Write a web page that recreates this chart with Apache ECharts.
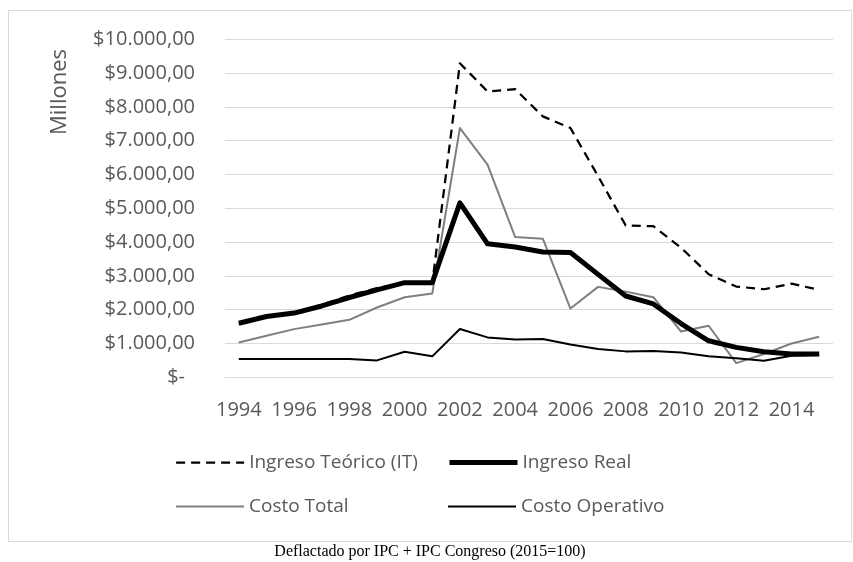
<!DOCTYPE html>
<html>
<head>
<meta charset="utf-8">
<script src="https://cdn.jsdelivr.net/npm/echarts@6/dist/echarts.min.js"></script>
<style>
  html, body { margin: 0; padding: 0; background: #fff; }
  #chart { width: 853px; height: 562px; }
</style>
</head>
<body>
<div id="chart"></div>
<script>
// años y series (millones, deflactado)
const years = ['1994','1995','1996','1997','1998','1999','2000','2001','2002','2003','2004',
  '2005','2006','2007','2008','2009','2010','2011','2012','2013','2014','2015'];

const ingresoTeorico = [1580, 1830, 1880, 2150, 2420, 2640, 2780, 2780, 9290, 8455, 8525,
  7720, 7375, 5950, 4490, 4470, 3835, 3050, 2685, 2605, 2770, 2585];
const ingresoReal = [1600, 1800, 1900, 2110, 2360, 2585, 2800, 2800, 5160, 3950, 3855,
  3705, 3690, 3045, 2405, 2170, 1590, 1080, 885, 755, 690, 690];
const costoTotal = [1030, 1230, 1425, 1563, 1700, 2065, 2370, 2480, 7375, 6290, 4150,
  4100, 2035, 2675, 2535, 2370, 1355, 1525, 420, 690, 1000, 1200];
const costoOperativo = [540, 540, 540, 545, 545, 500, 755, 620, 1430, 1180, 1120,
  1130, 973, 835, 767, 780, 735, 620, 560, 490, 640, 660];

const FONT = '"Open Sans", sans-serif';
const GRAY_TXT = '#595959';

const styles = {
  'Ingreso Teórico (IT)': { color: '#000000', width: 2.25, type: [9, 6] },
  'Ingreso Real': { color: '#000000', width: 5, type: 'solid' },
  'Costo Total': { color: '#7f7f7f', width: 2, type: 'solid' },
  'Costo Operativo': { color: '#000000', width: 2, type: 'solid' },
};

function money(v) {
  if (v === 0) return '$-\u2002';
  const s = String(v).replace(/\B(?=(\d{3})+(?!\d))/g, '.');
  return '$' + s + ',00';
}

const chart = echarts.init(document.getElementById('chart'), null, { renderer: 'canvas' });

function lineSeries(name, data) {
  const st = styles[name];
  return {
    name, type: 'line', data,
    symbol: 'none',
    lineStyle: { color: st.color, width: st.width, type: st.type, cap: 'butt', join: 'round' },
    itemStyle: { color: st.color },
    z: name === 'Ingreso Real' ? 3 : 2,
  };
}

function legendAt(name, left, top) {
  const st = styles[name];
  return {
    data: [name],
    left, top,
    padding: 0,
    itemWidth: 68,
    itemHeight: 14,
    itemGap: 0,
    itemStyle: { opacity: 0 },
    lineStyle: { color: st.color, width: st.width, type: st.type, cap: 'butt' },
    textStyle: { color: GRAY_TXT, fontFamily: FONT, fontSize: 19 },
    selectedMode: false,
  };
}

chart.setOption({
  backgroundColor: '#fff',
  animation: false,
  grid: { left: 225, right: 20, top: 39.3, bottom: 184.7 },
  xAxis: {
    type: 'category',
    data: years,
    boundaryGap: true,
    axisLine: { show: true, lineStyle: { color: '#d9d9d9', width: 1 } },
    axisTick: { show: false },
    axisLabel: { interval: 1, color: GRAY_TXT, fontFamily: FONT, fontSize: 20, margin: 23 },
  },
  yAxis: {
    type: 'value',
    min: 0, max: 10000, interval: 1000,
    axisLine: { show: false },
    axisTick: { show: false },
    splitLine: { lineStyle: { color: '#d9d9d9', width: 1 } },
    axisLabel: { formatter: money, color: GRAY_TXT, fontFamily: FONT, fontSize: 20, margin: 30 },
  },
  legend: [
    legendAt('Ingreso Teórico (IT)', 175, 453),
    legendAt('Ingreso Real', 447, 453),
    legendAt('Costo Total', 175, 497),
    legendAt('Costo Operativo', 447, 497),
  ],
  graphic: [
    {
      type: 'rect', silent: true,
      shape: { x: 8.5, y: 10.5, width: 843, height: 531 },
      style: { fill: 'none', stroke: '#d9d9d9', lineWidth: 1 },
    },
    {
      type: 'text', silent: true,
      x: 60, y: 92, rotation: Math.PI / 2,
      style: {
        text: 'Millones', fill: GRAY_TXT, font: '22px "Open Sans", sans-serif',
        align: 'center', verticalAlign: 'middle',
      },
    },
    {
      type: 'text', silent: true,
      x: 430, y: 552,
      style: {
        text: 'Deflactado por IPC + IPC Congreso (2015=100)', fill: '#000',
        font: '16px "Liberation Serif", "Times New Roman", serif',
        align: 'center', verticalAlign: 'middle',
      },
    },
  ],
  series: [
    lineSeries('Ingreso Teórico (IT)', ingresoTeorico),
    lineSeries('Ingreso Real', ingresoReal),
    lineSeries('Costo Total', costoTotal),
    lineSeries('Costo Operativo', costoOperativo),
  ],
});

window.addEventListener('resize', () => chart.resize());
</script>
</body>
</html>
